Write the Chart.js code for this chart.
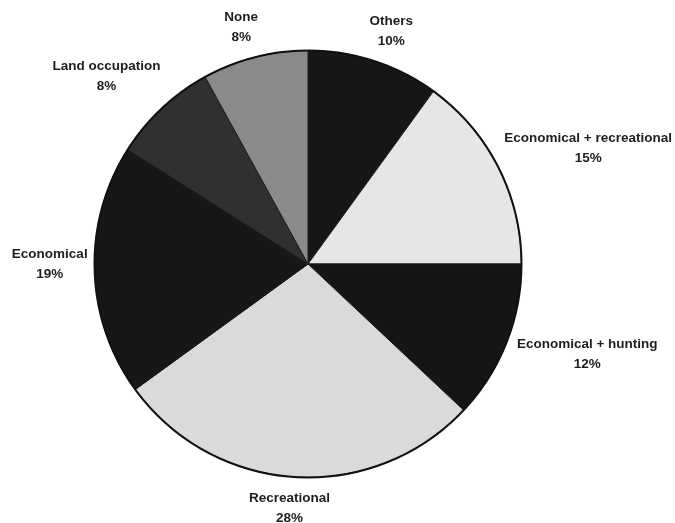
<!DOCTYPE html>
<html>
<head>
<meta charset="utf-8">
<script src="https://cdn.jsdelivr.net/npm/chart.js@4/dist/chart.umd.min.js"></script>
<style>
  html, body { margin: 0; padding: 0; background: #ffffff; }
  #wrap { width: 675px; height: 523px; }
</style>
</head>
<body>
<div id="wrap"><canvas id="c" width="675" height="523"></canvas></div>
<script>
const categories = ["Others", "Economical + recreational", "Economical + hunting", "Recreational", "Economical", "Land occupation", "None"];
const shares = [10, 15, 12, 28, 19, 8, 8];
const sliceColors = ["#161616", "#e6e6e6", "#151515", "#dadada", "#171717", "#303030", "#8a8a8a"];
const labelNudges = [[5.5, 4], [1, -2.5], [0.5, -1.5], [-1.5, -3.5], [9, -8], [-7.5, -6.5], [-5.5, 4]];

const outsideLabels = {
  id: "outsideLabels",
  afterDatasetsDraw(chart) {
    const ctx = chart.ctx;
    const meta = chart.getDatasetMeta(0);
    ctx.save();
    // outer outline of the pie
    const a0 = meta.data[0].getProps(["x", "y", "outerRadius"], true);
    ctx.beginPath();
    ctx.arc(a0.x, a0.y, a0.outerRadius, 0, Math.PI * 2);
    ctx.lineWidth = 2;
    ctx.strokeStyle = "#111111";
    ctx.stroke();

    ctx.font = "bold 13.5px 'Liberation Sans', Arial, sans-serif";
    ctx.fillStyle = "#1e1e1e";
    ctx.textAlign = "center";
    ctx.textBaseline = "middle";
    meta.data.forEach((arc, i) => {
      const p = arc.getProps(["x", "y", "startAngle", "endAngle", "outerRadius"], true);
      const mid = (p.startAngle + p.endAngle) / 2;
      const cx = Math.cos(mid), cy = Math.sin(mid);
      const line1 = categories[i];
      const line2 = shares[i] + "%";
      const w = Math.max(ctx.measureText(line1).width, ctx.measureText(line2).width);
      const h = 38;
      const rr = p.outerRadius + 16;
      const bx = p.x + rr * cx + (w / 2) * cx + labelNudges[i][0];
      const by = p.y + rr * cy + (h / 2) * cy + labelNudges[i][1];
      ctx.fillText(line1, bx, by - 10);
      ctx.fillText(line2, bx, by + 10);
    });
    ctx.restore();
  }
};

new Chart(document.getElementById("c"), {
  type: "pie",
  data: {
    labels: categories,
    datasets: [{
      data: shares,
      backgroundColor: sliceColors,
      borderColor: "#1a1a1a",
      borderWidth: 1
    }]
  },
  options: {
    responsive: false,
    animation: false,
    layout: { padding: { left: 94, right: 153, top: 50, bottom: 45 } },
    plugins: {
      legend: { display: false },
      tooltip: { enabled: false }
    }
  },
  plugins: [outsideLabels]
});
</script>
</body>
</html>
